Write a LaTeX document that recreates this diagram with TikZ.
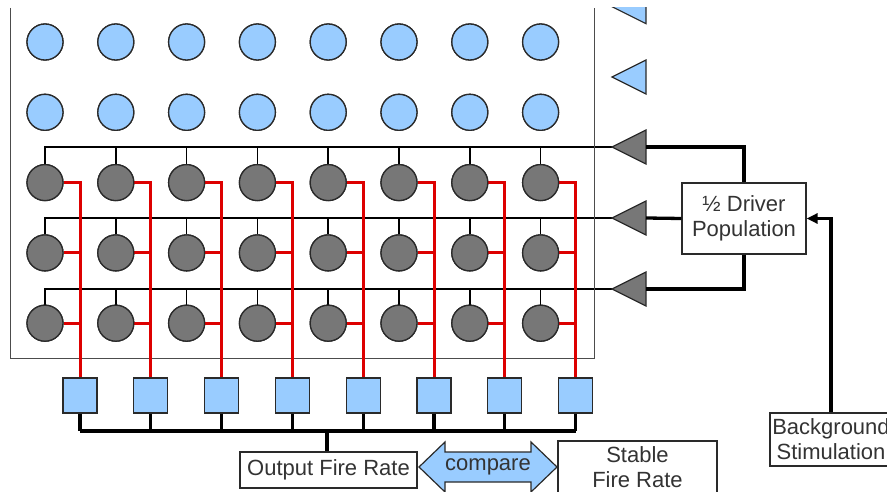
\documentclass[tikz,border=0pt]{standalone}
\usepackage{fontspec}
\setmainfont{Liberation Sans}
\usetikzlibrary{arrows.meta,calc}
\definecolor{lblue}{HTML}{99CCFF}
\definecolor{gfill}{HTML}{777777}
\definecolor{edge}{HTML}{2A2A2A}
\definecolor{redl}{HTML}{DD0000}
\definecolor{txt}{HTML}{333333}
\begin{document}
\begin{tikzpicture}[x=1pt,y=-1pt,
  gcirc/.style={circle,draw=edge,line width=1.3pt,fill=gfill,minimum size=36pt,inner sep=0pt},
  bcirc/.style={circle,draw=edge,line width=1.3pt,fill=lblue,minimum size=36pt,inner sep=0pt},
  sqbox/.style={draw=edge,line width=1.2pt,fill=lblue,minimum width=34pt,minimum height=35pt,inner sep=0pt},
  txtbox/.style={draw=edge,line width=1.2pt,fill=white,align=center,inner sep=0pt,text=txt,
     font=\fontsize{22}{25}\selectfont},
  thinl/.style={line width=1.5pt,draw=black},
  busl/.style={line width=3.3pt,draw=black},
  redw/.style={line width=3pt,draw=redl},
  gtri/.style={draw=edge,line width=1.2pt,fill=gfill},
  btri/.style={draw=edge,line width=1.2pt,fill=lblue},
  frame/.style={line width=1pt,draw=black!70}]
\useasboundingbox (0,0) rectangle (887,492);
\clip (0,8) rectangle (887,492);

% triangles (tips and bases as coordinates)
\foreach \k/\ty in {1/6.7,2/77,3/147,4/218,5/289}{
  \coordinate (tip\k) at (612,\ty);
  \coordinate (base\k) at (646,\ty);
}
% circles
\foreach \i in {1,...,8}{
  \pgfmathsetmacro\cx{45+70.8*(\i-1)}
  \foreach \j in {1,...,5}{
    \pgfmathsetmacro\cy{42+70.3*(\j-1)}
    \ifnum\j<3
      \node[bcirc] (c-\j-\i) at (\cx,\cy) {};
    \else
      \node[gcirc] (c-\j-\i) at (\cx,\cy) {};
    \fi
  }
  \node[sqbox] (s-\i) at (\cx+35,395.5) {};
}

% black distribution lines
\foreach \j in {3,4,5}{
  \draw[thinl] (c-\j-1.north) |- (tip\j);
  \foreach \i in {2,...,8}{
    \draw[thinl] (c-\j-\i.north) -- (c-\j-\i.north |- tip\j);
  }
}
% frame
\draw[frame] (10,8) -- (10,358) -- (594,358) -- (594,8);

% red output lines
\foreach \i in {1,...,8}{
  \draw[redw] (c-3-\i.east) -| (s-\i.north);
  \draw[redw] (c-4-\i.east) -- (c-4-\i.east -| s-\i.north);
  \draw[redw] (c-5-\i.east) -- (c-5-\i.east -| s-\i.north);
}
% redraw circles and squares on top
\foreach \i in {1,...,8}{
  \foreach \j in {1,...,5}{
    \ifnum\j<3
      \node[bcirc] at (c-\j-\i) {};
    \else
      \node[gcirc] at (c-\j-\i) {};
    \fi
  }
  \node[sqbox] at (s-\i) {};
}

% triangles
\foreach \k/\st in {1/btri,2/btri,3/gtri,4/gtri,5/gtri}{
  \path[\st] (tip\k) -- ($(base\k)+(0,-17)$) -- ($(base\k)+(0,17)$) -- cycle;
}

% output bus
\coordinate (bus) at (327,431);
\foreach \i in {1,...,8}{
  \draw[busl] (s-\i.south) -- (s-\i.south |- bus);
}
\draw[busl] (s-1.south |- bus) -- (s-8.south |- bus);

\node[txtbox,minimum width=177pt,minimum height=36pt] (out) at (328.5,470) {Output Fire Rate};
\draw[busl] (bus) -- (bus |- out.north);

% compare arrow
\path[draw=edge,line width=1.2pt,fill=lblue]
  (419,467) -- (445,442) -- (445,452) -- (531,452) -- (531,442) -- (557,467)
  -- (531,492) -- (531,482) -- (445,482) -- (445,492) -- cycle;
\node[text=txt,font=\fontsize{22}{25}\selectfont,inner sep=0pt] (cmp) at (488,467) {compare};

\node[txtbox,minimum width=159pt,minimum height=52pt] (stable) at (637.5,467) {Stable\\Fire Rate};

% driver population
\node[txtbox,minimum width=124pt,minimum height=71pt] (drv) at (744,218.5) {½ Driver\\Population};
\draw[busl] (drv.north) |- (base3);
\draw[busl] (drv.west) -- (base4);
\draw[busl] (drv.south) |- (base5);

% background stimulation
\node[txtbox,minimum width=122pt,minimum height=53pt] (bg) at (831,439.5) {Background\\Stimulation};
\draw[busl,-{Triangle[length=11pt,width=10pt]}] (bg.north) |- (drv.east);
\end{tikzpicture}
\end{document}
